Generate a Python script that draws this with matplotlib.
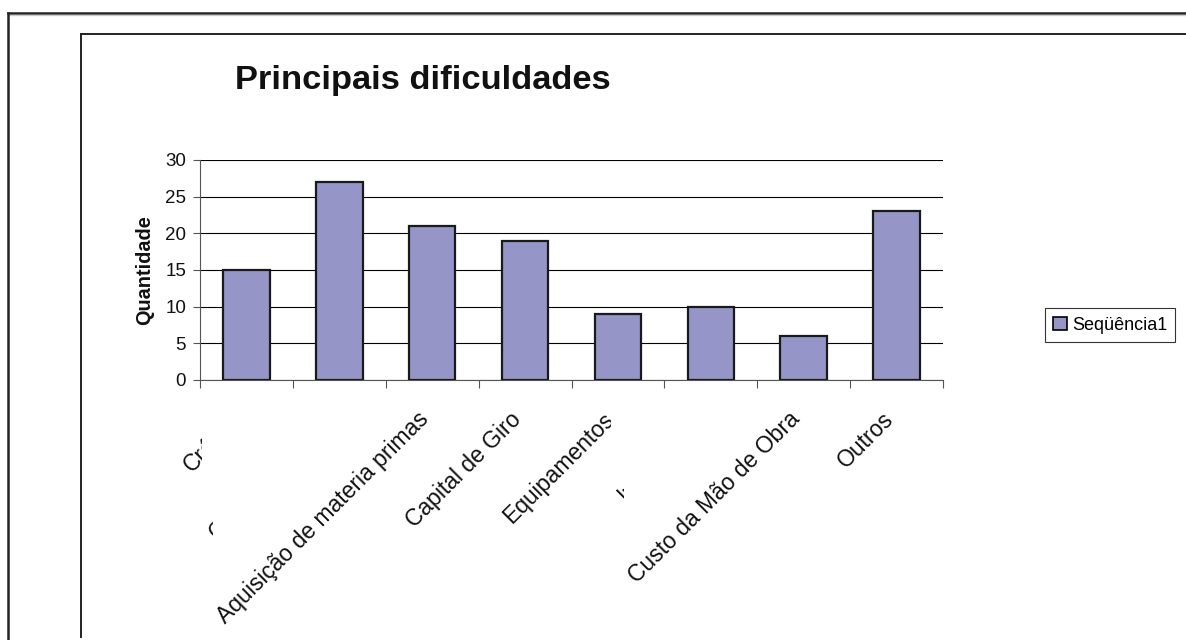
import matplotlib.pyplot as plt
from matplotlib.lines import Line2D
from matplotlib.patches import Patch
from matplotlib.transforms import Bbox, TransformedBbox, offset_copy

plt.rcParams['font.family'] = ['Liberation Sans', 'DejaVu Sans']

categorias = ["Crédito", "Comercialização", "Aquisição de materia primas", "Capital de Giro",
              "Equipamentos", "Instalações", "Custo da Mão de Obra", "Outros"]
quantidade = [15, 27, 21, 19, 9, 10, 6, 23]
serie = "Seqüência1"
# rótulos que aparecem cortados no original: limite horizontal visível (px)
corte = {0: 202, 1: 213, 4: 611, 5: 624}

W, H = 1186, 640
cor_barra = '#9595c8'

fig = plt.figure(figsize=(W / 100, H / 100), dpi=100)
ax = fig.add_axes([200 / W, 1 - 380 / H, 743 / W, 220 / H])

x = list(range(len(categorias)))
ax.bar(x, quantidade, width=0.5, color=cor_barra, edgecolor='#1a1a1a', linewidth=1.6, zorder=3)
ax.set_xlim(-0.5, len(categorias) - 0.5)
ax.set_ylim(0, 30)
ax.set_yticks(range(0, 31, 5))
ax.yaxis.grid(True, color='black', linewidth=0.8)
ax.set_axisbelow(True)
ax.set_xticks([i - 0.5 for i in range(len(categorias) + 1)])
ax.set_xticklabels([])
ax.tick_params(axis='x', direction='out', length=6, width=0.8, color='#555555')
ax.tick_params(axis='y', direction='out', length=5, width=0.8, color='#555555',
               labelsize=13.5, pad=5, labelcolor='#111111')
for s in ['top', 'right']:
    ax.spines[s].set_visible(False)
for s in ['left', 'bottom']:
    ax.spines[s].set_color('#555555')
    ax.spines[s].set_linewidth(0.8)

# rótulos das categorias, inclinados a 45 graus
base = ax.get_xaxis_transform()
for i, nome in enumerate(categorias):
    tr = offset_copy(base, fig=fig, x=-7, y=-36, units='dots')
    t = fig.text(i, 0, nome, transform=tr, rotation=45, rotation_mode='anchor',
                 ha='right', va='center', fontsize=16.5, color='#111111')
    if i in corte:
        t.set_clip_on(True)
        t.set_clip_box(TransformedBbox(Bbox.from_extents(0, 0, corte[i] / W, 1), fig.transFigure))

fig.text(235 / W, 1 - 81 / H, "Principais dificuldades", fontsize=24.8, fontweight='bold',
         ha='left', va='center', color='#111111')
fig.text(145 / W, 1 - 270 / H, "Quantidade", fontsize=14.3, fontweight='bold', rotation=90,
         ha='center', va='center', color='#111111')

leg = fig.legend(handles=[Patch(facecolor=cor_barra, edgecolor='black', linewidth=1.2, label=serie)],
                 loc='center left', bbox_to_anchor=(1045 / W, 1 - 325 / H), frameon=True,
                 fancybox=False, edgecolor='black', fontsize=13, handlelength=0.75,
                 handleheight=0.75, handletextpad=0.3, borderpad=0.45, borderaxespad=0)
leg.get_frame().set_linewidth(0.8)

# molduras do gráfico
fig.add_artist(Line2D([8 / W, 1], [1 - 13 / H] * 2, transform=fig.transFigure, color='#222222', lw=1.8))
fig.add_artist(Line2D([8 / W, 1], [1 - 14.5 / H] * 2, transform=fig.transFigure, color='#cccccc', lw=1))
fig.add_artist(Line2D([8 / W] * 2, [1 - 13 / H, 0], transform=fig.transFigure, color='#222222', lw=1.8))
fig.add_artist(Line2D([81 / W, 1], [1 - 34 / H] * 2, transform=fig.transFigure, color='#222222', lw=1.4))
fig.add_artist(Line2D([81 / W] * 2, [1 - 34 / H, 3 / H], transform=fig.transFigure, color='#222222', lw=1.4))

fig.savefig("out.png", dpi=100)
